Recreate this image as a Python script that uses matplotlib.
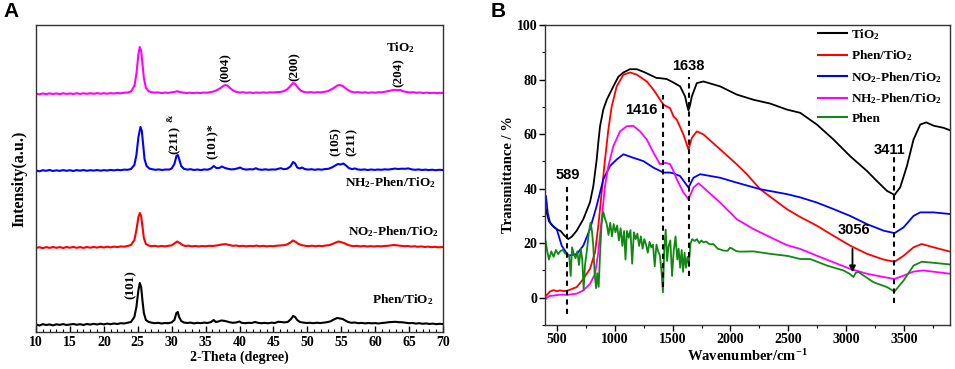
import matplotlib
matplotlib.use("Agg")
import matplotlib.pyplot as plt
import numpy as np

plt.rcParams["font.family"] = ["Liberation Serif", "DejaVu Serif"]
plt.rcParams["font.weight"] = "bold"
plt.rcParams["mathtext.fontset"] = "custom"
plt.rcParams["mathtext.rm"] = "Liberation Serif:bold"
plt.rcParams["mathtext.it"] = "Liberation Serif:bold"
plt.rcParams["mathtext.bf"] = "Liberation Serif:bold"
plt.rcParams["mathtext.default"] = "rm"

# ---------------- Panel A: XRD (2-theta, relative intensity) ----------------
xrd_phen = [
    (10, 0.5), (10.5, -0.5), (11, 0.8), (11.5, 0), (12, 0.6), (12.5, -0.4), (13, 0.7), (13.5, 0.1),
    (14, 0.9), (14.5, 0), (15, 0.5), (15.5, 1), (16, 0.2), (16.5, 0.8), (17, 0), (17.5, 1),
    (18, 0.4), (18.5, 1.2), (19, 0.5), (19.5, 1.3), (20, 0.6), (20.5, 1.4), (21, 0.8), (21.5, 1.5),
    (22, 1), (22.5, 1.8), (23, 1.5), (23.5, 2.2), (24, 3), (24.5, 8), (24.8, 18), (25.1, 35),
    (25.3, 42), (25.5, 38), (25.7, 24), (25.9, 12), (26.2, 5), (26.6, 3), (27, 2.4), (27.5, 1.8),
    (28, 2.2), (28.5, 1.5), (29, 2), (29.5, 1.8), (30, 2.6), (30.4, 5), (30.7, 12), (30.9, 13),
    (31.1, 8), (31.4, 4), (31.8, 2.5), (32.3, 2), (32.8, 2.4), (33.3, 1.6), (33.8, 2.2), (34.3, 1.8),
    (34.8, 2.4), (35.3, 2), (35.8, 3), (36.2, 5), (36.5, 3), (36.9, 3.5), (37.3, 4.5), (37.7, 4.2),
    (38.1, 3.6), (38.5, 2.8), (39, 2.2), (39.5, 2.5), (40, 3.5), (40.3, 2.2), (40.8, 1.8), (41.3, 2.2),
    (41.8, 2), (42.3, 3), (42.7, 2.2), (43.2, 1.8), (43.7, 2.1), (44.2, 1.7), (44.7, 2.3), (45.2, 2),
    (45.7, 3.2), (46.1, 3), (46.6, 2.6), (47.1, 3), (47.6, 6), (47.9, 9), (48.2, 8), (48.5, 5),
    (48.9, 3), (49.4, 2.4), (49.9, 2), (50.4, 2.2), (50.9, 1.8), (51.4, 2.3), (51.9, 1.9), (52.4, 2.4),
    (52.9, 2.8), (53.4, 3.6), (53.9, 5.5), (54.4, 7), (54.8, 6.5), (55.2, 6), (55.6, 4.5), (56, 3),
    (56.5, 2.2), (57, 2.5), (57.5, 1.8), (58, 2.1), (58.5, 1.6), (59, 2), (59.5, 1.7), (60, 1.9),
    (60.5, 1.5), (61, 2), (61.5, 2.3), (62, 2.8), (62.5, 3), (63, 3.2), (63.5, 2.8), (64, 2.7),
    (64.5, 2.2), (65, 1.8), (65.5, 2), (66, 1.4), (66.5, 1.8), (67, 1.2), (67.5, 1.6), (68, 1),
    (68.5, 1.4), (69, 0.8), (69.5, 1.2), (70, 0.9),
]
xrd_no2 = [
    (10, 0), (10.5, 0.8), (11, -0.2), (11.5, 0.9), (12, 0.1), (12.5, 1), (13, 0.2), (13.5, 0.9),
    (14, 0), (14.5, 1), (15, 0.3), (15.5, 1.1), (16, 0.2), (16.5, 0.9), (17, 0.1), (17.5, 1),
    (18, 0.3), (18.5, 1.1), (19, 0.4), (19.5, 1.2), (20, 0.5), (20.5, 1.3), (21, 0.6), (21.5, 1.4),
    (22, 0.9), (22.5, 1.6), (23, 1.3), (23.5, 2), (24, 3), (24.5, 8), (24.8, 18), (25.1, 31),
    (25.3, 35), (25.5, 32), (25.7, 21), (25.9, 10), (26.2, 4), (26.6, 2.5), (27, 1.8), (27.5, 2.2),
    (28, 1.5), (28.5, 2), (29, 1.6), (29.5, 2.2), (30, 2.6), (30.4, 4.5), (30.8, 6.5), (31.2, 5),
    (31.6, 3), (32, 2), (32.5, 2.3), (33, 1.6), (33.5, 2.1), (34, 1.5), (34.5, 2), (35, 1.7),
    (35.5, 2.2), (36, 2), (36.5, 2.4), (37, 3), (37.5, 3.6), (38, 3.8), (38.5, 3), (39, 2.2),
    (39.5, 2.5), (40, 1.8), (40.5, 2.2), (41, 1.6), (41.5, 2.1), (42, 1.8), (42.5, 2.4), (43, 1.7),
    (43.5, 2.2), (44, 1.6), (44.5, 2), (45, 1.8), (45.5, 2.3), (46, 2.5), (46.5, 2.8), (47, 3.5),
    (47.5, 5.5), (47.9, 7.5), (48.3, 6), (48.7, 4), (49.2, 2.8), (49.7, 2.2), (50.2, 1.8), (50.7, 2.3),
    (51.2, 1.7), (51.7, 2.2), (52.2, 1.9), (52.7, 2.5), (53.2, 2.8), (53.7, 4), (54.2, 5.5), (54.6, 6.5),
    (55, 5.8), (55.4, 5), (55.8, 3.6), (56.3, 2.4), (56.8, 1.8), (57.3, 2.2), (57.8, 1.6), (58.3, 2),
    (58.8, 1.5), (59.3, 1.9), (59.8, 1.5), (60.3, 1.9), (60.8, 1.6), (61.3, 2), (61.8, 2.2), (62.3, 2.6),
    (62.8, 3), (63.3, 2.6), (63.8, 2.2), (64.3, 1.8), (64.8, 2), (65.3, 1.4), (65.8, 1.8), (66.3, 1.2),
    (66.8, 1.6), (67.3, 1), (67.8, 1.4), (68.3, 0.8), (68.8, 1.2), (69.3, 0.7), (70, 1),
]
xrd_nh2 = [
    (10, 0.5), (10.5, -0.3), (11, 0.8), (11.5, 0.2), (12, 1), (12.5, 0), (13, 0.7), (13.5, 0.1),
    (14, 0.9), (14.5, 0.2), (15, 0.8), (15.5, 0), (16, 0.9), (16.5, 0.3), (17, 1), (17.5, 0.2),
    (18, 0.8), (18.5, 0.4), (19, 1), (19.5, 0.3), (20, 0.9), (20.5, 0.5), (21, 1.1), (21.5, 0.6),
    (22, 1.2), (22.5, 0.8), (23, 1.4), (23.5, 1.2), (24, 2), (24.5, 6), (24.8, 16), (25.1, 34),
    (25.4, 44), (25.6, 40), (25.8, 26), (26, 12), (26.3, 5), (26.7, 2.5), (27.1, 1.8), (27.6, 1.2),
    (28.1, 1.6), (28.6, 1), (29.1, 1.5), (29.6, 1.4), (30, 2.5), (30.4, 7), (30.7, 15), (30.9, 16),
    (31.1, 12), (31.4, 5), (31.8, 2.2), (32.3, 1.4), (32.8, 1.8), (33.3, 1), (33.8, 1.5), (34.3, 0.9),
    (34.8, 1.6), (35.3, 1.3), (35.8, 2.5), (36.2, 5), (36.6, 3), (37, 3), (37.4, 4.5), (37.8, 3.2),
    (38.3, 2.2), (38.8, 1.6), (39.3, 1.9), (39.7, 2.6), (40.1, 3.5), (40.5, 2), (41, 1.4), (41.5, 1.8),
    (42, 1.6), (42.4, 2.8), (42.8, 1.6), (43.3, 1.2), (43.8, 1.7), (44.3, 1.2), (44.8, 1.6), (45.3, 1.4),
    (45.8, 2.4), (46.1, 2.8), (46.5, 1.8), (47, 2.2), (47.5, 4.5), (47.9, 9), (48.2, 7.5), (48.5, 3.5),
    (48.9, 2.5), (49.2, 3.5), (49.6, 2), (50.1, 1.4), (50.6, 1.8), (51.1, 1.2), (51.6, 1.7), (52.1, 1.3),
    (52.6, 1.9), (53.1, 2.2), (53.6, 3.5), (54.1, 5.5), (54.5, 7), (54.9, 6.5), (55.3, 7.5), (55.7, 5.5),
    (56.1, 3), (56.6, 1.8), (57, 2.6), (57.4, 1.6), (57.9, 1.2), (58.4, 1.6), (58.9, 1), (59.4, 1.5),
    (59.9, 1.1), (60.4, 1.5), (60.9, 1.2), (61.4, 1.7), (61.9, 1.4), (62.4, 1.9), (62.9, 2.4), (63.4, 2),
    (63.9, 2.3), (64.4, 2.2), (64.9, 2.6), (65.4, 1.6), (65.9, 1.2), (66.4, 1.6), (66.9, 1), (67.4, 1.4),
    (67.9, 0.9), (68.4, 1.3), (68.9, 0.8), (69.4, 1.2), (70, 1),
]
xrd_tio2 = [
    (10, 0.3), (10.5, -0.4), (11, 0.6), (11.5, -0.2), (12, 0.7), (12.5, 0), (13, 0.6), (13.5, -0.1),
    (14, 0.7), (14.5, 0.1), (15, 0.6), (15.5, 0), (16, 0.8), (16.5, 0.1), (17, 0.7), (17.5, 0.2),
    (18, 0.8), (18.5, 0.2), (19, 0.9), (19.5, 0.3), (20, 0.8), (20.5, 0.3), (21, 0.9), (21.5, 0.5),
    (22, 1.1), (22.5, 0.7), (23, 1.3), (23.5, 1.5), (24, 2.5), (24.5, 8), (24.8, 20), (25.1, 40),
    (25.3, 47), (25.5, 43), (25.7, 30), (25.9, 16), (26.2, 6), (26.6, 2.8), (27, 1.8), (27.5, 1.4),
    (28, 1.6), (28.5, 1), (29, 1.4), (29.5, 1.1), (30, 1.6), (30.5, 2.2), (30.8, 2.8), (31.2, 2),
    (31.7, 1.4), (32.2, 1), (32.7, 1.3), (33.2, 0.9), (33.7, 1.3), (34.2, 1), (34.7, 1.4), (35.2, 1.3),
    (35.7, 1.8), (36.2, 2.6), (36.7, 4), (37.2, 6), (37.6, 8), (37.9, 9), (38.2, 8.5), (38.6, 6),
    (39, 3.8), (39.5, 2.2), (40, 1.5), (40.5, 1.8), (41, 1.2), (41.5, 1.6), (42, 1.1), (42.5, 1.5),
    (43, 1.2), (43.5, 1.6), (44, 1.3), (44.5, 1.7), (45, 1.5), (45.5, 1.9), (46, 2), (46.5, 2.8),
    (47, 4.5), (47.5, 8), (47.9, 11), (48.2, 10), (48.6, 6.5), (49, 3.5), (49.5, 2), (50, 1.6),
    (50.5, 1.9), (51, 1.4), (51.5, 1.8), (52, 1.6), (52.5, 2.2), (53, 2.8), (53.5, 4.5), (54, 6.5),
    (54.4, 8.5), (54.8, 9), (55.2, 8), (55.6, 6), (56, 3.8), (56.5, 2.2), (57, 1.6), (57.5, 1.9),
    (58, 1.3), (58.5, 1.7), (59, 1.2), (59.5, 1.6), (60, 1.3), (60.5, 1.8), (61, 1.7), (61.5, 2.3),
    (62, 3), (62.5, 3.8), (62.9, 4.2), (63.3, 3.8), (63.7, 4), (64.1, 2.8), (64.6, 2), (65.1, 1.5),
    (65.6, 1.8), (66.1, 1.2), (66.6, 1.6), (67.1, 1), (67.6, 1.4), (68.1, 0.9), (68.6, 1.3), (69.1, 0.8),
    (69.6, 1.2), (70, 1),
]

xrd_series = [
    ("Phen/TiO$_2$", xrd_phen, "black", 7),
    ("NO$_2$-Phen/TiO$_2$", xrd_no2, "#ff0000", 84),
    ("NH$_2$-Phen/TiO$_2$", xrd_nh2, "#0000ff", 161),
    ("TiO$_2$", xrd_tio2, "#ff00ff", 238),
]

# (label, 2-theta, height)
xrd_peak_labels = [
    ("(101)", 23.9, 47),
    ("(211)", 30.5, 192),
    ("(101)*", 36.0, 191),
    ("(105)", 54.1, 190),
    ("(211)", 56.6, 190),
    ("(004)", 38.0, 264),
    ("(200)", 48.2, 265),
    ("(204)", 63.4, 259),
]
amp_mark = ("&", 29.8, 214)
xrd_curve_labels = [
    ("TiO$_2$", 63.8, 284),
    ("NH$_2$-Phen/TiO$_2$", 62.3, 149),
    ("NO$_2$-Phen/TiO$_2$", 62.7, 100),
    ("Phen/TiO$_2$", 64.0, 32),
]

# ---------------- Panel B: FTIR (wavenumber, transmittance %) ----------------
ftir_tio2 = [
    (400, 33), (430, 28), (470, 26), (500, 25), (530, 24.5), (560, 23), (597, 21.5), (630, 22.5),
    (670, 24.6), (727, 28.8), (785, 35), (814, 41), (843, 50.7), (857, 57), (872, 62.9), (900, 69),
    (930, 72.6), (987, 77.5), (1030, 81), (1074, 82.6), (1130, 83.8), (1190, 83.8), (1250, 82.8),
    (1300, 81.8), (1360, 80.6), (1391, 80.5), (1449, 80.2), (1507, 78.9), (1565, 77.5), (1608, 73.8),
    (1625, 70.5), (1637, 68.7), (1650, 70.5), (1666, 73.8), (1709, 78.7), (1766, 79.3), (1911, 77.5),
    (2055, 74.5), (2199, 72.6), (2344, 71.2), (2488, 69), (2604, 67.8), (2748, 63.5), (2892, 58),
    (3036, 51.9), (3181, 46.5), (3267, 42.8), (3354, 39.2), (3420, 37.7), (3469, 40.5), (3527, 48.3),
    (3584, 58), (3642, 63.5), (3694, 64.3), (3757, 63.1), (3844, 62.3), (3900, 61.4),
]
ftir_phen_tio2 = [
    (400, 0.5), (439, 2.3), (470, 2.8), (500, 2.4), (526, 2.7), (560, 2.4), (597, 2.7), (670, 3.9),
    (727, 6.9), (785, 10.6), (829, 16.7), (857, 26.4), (886, 38.6), (915, 50.7), (944, 61.7),
    (973, 70.2), (1016, 77.5), (1074, 81.8), (1132, 82.6), (1190, 81.8), (1276, 79.3), (1334, 76.3),
    (1420, 70.8), (1478, 69.5), (1507, 66.5), (1536, 65.3), (1593, 59.9), (1637, 54.4), (1666, 58.6),
    (1709, 61), (1766, 59.9), (1911, 54.4), (2055, 48.9), (2142, 45.3), (2257, 39.8), (2488, 32.5),
    (2604, 29.6), (2748, 26.4), (2892, 22.7), (3036, 19.1), (3181, 16.1), (3325, 14), (3420, 13.2),
    (3498, 15.4), (3584, 18.5), (3656, 19.7), (3757, 18.5), (3900, 16.9),
]
ftir_no2 = [
    (404, 37.3), (420, 31), (439, 27.6), (460, 26.5), (497, 25.2), (540, 19.1), (597, 15.4),
    (670, 16), (727, 19.1), (785, 25.2), (843, 33.7), (900, 43.4), (958, 48.3), (1016, 50.7),
    (1074, 52.6), (1161, 51.3), (1247, 50.1), (1334, 47.7), (1420, 45.9), (1478, 45.9), (1507, 45.6),
    (1565, 44.6), (1637, 40.4), (1680, 44), (1738, 45.3), (1911, 44), (2055, 42.2), (2257, 39.8),
    (2488, 38), (2604, 36.8), (2748, 34.9), (2892, 32.5), (3036, 30), (3181, 27), (3325, 24.6),
    (3420, 23.7), (3498, 25.8), (3584, 30), (3642, 31.3), (3757, 31.3), (3900, 30.7),
]
ftir_nh2 = [
    (404, -0.4), (430, 0.6), (468, 0.8), (520, 1.1), (597, 1.1), (670, 1.5), (727, 2.7),
    (785, 5.1), (829, 8.8), (857, 16.7), (886, 28.8), (915, 41), (944, 48.3), (987, 55.6),
    (1045, 61), (1103, 62.9), (1161, 63), (1218, 61), (1276, 58), (1334, 53.2), (1391, 48.9),
    (1435, 49.5), (1478, 49), (1507, 46.5), (1536, 43.4), (1593, 38.6), (1637, 36.1), (1680, 40.4),
    (1724, 42), (1911, 34.9), (2055, 28.8), (2199, 25.2), (2344, 22.2), (2488, 19.3), (2604, 17.9),
    (2748, 15.4), (2892, 13), (3036, 10.6), (3181, 8.8), (3325, 7.6), (3420, 6.9), (3498, 8.1),
    (3584, 9.6), (3671, 10), (3900, 8.8),
]
ftir_phen = [
    (400, 21), (415, 17), (430, 14), (450, 17), (470, 15), (490, 17.5), (510, 16), (530, 17.2),
    (550, 17.5), (570, 16.2), (590, 16), (605, 15.5), (618, 8), (630, 18.5), (645, 16), (660, 14.5),
    (675, 17), (690, 12), (705, 18), (718, 14), (730, 3), (742, 12), (760, 18), (775, 24),
    (790, 27.5), (800, 25), (812, 20), (825, 9), (838, 3.5), (848, 9), (860, 4), (872, 16),
    (885, 27), (900, 31.5), (915, 29), (930, 27), (945, 23), (960, 27.5), (975, 22.5), (990, 27),
    (1005, 24), (1020, 26.5), (1035, 21), (1050, 25.5), (1065, 19), (1080, 24.5), (1092, 14),
    (1105, 24.5), (1120, 22), (1135, 24.8), (1150, 12.5), (1165, 24), (1180, 21.5), (1195, 23.5),
    (1210, 19), (1225, 22.5), (1240, 18), (1255, 21.5), (1270, 19.5), (1285, 16.5), (1300, 20.5),
    (1315, 18.5), (1330, 19.5), (1345, 11.5), (1360, 19.5), (1375, 17), (1390, 15.5), (1405, 9),
    (1416, 2), (1428, 18), (1440, 25), (1452, 13.5), (1465, 19), (1480, 21), (1495, 8),
    (1510, 17.5), (1525, 22.5), (1540, 14), (1552, 18), (1565, 11), (1578, 17.5), (1590, 9.5),
    (1603, 16.5), (1615, 11), (1628, 15), (1640, 12.5), (1655, 20), (1670, 21.5), (1690, 20.8),
    (1710, 21.5), (1730, 20), (1750, 21), (1766, 20.3), (1790, 20.6), (1820, 19.6), (1853, 19.7),
    (1890, 18), (1940, 17.3), (1975, 17.2), (1995, 18.3), (2012, 18.1), (2050, 17.1), (2084, 16.9),
    (2200, 17), (2344, 16.1), (2500, 15.3), (2604, 14.2), (2690, 14.2), (2835, 11.8), (2979, 10),
    (3030, 8.8), (3065, 7.6), (3085, 9.2), (3108, 9.4), (3238, 5.7), (3354, 3.9), (3420, 2.3),
    (3498, 6.3), (3584, 11.8), (3656, 13.2), (3760, 12.8), (3900, 12.2),
]

ftir_series = [
    ("TiO$_2$", ftir_tio2, "black"),
    ("Phen/TiO$_2$", ftir_phen_tio2, "#ff0000"),
    ("NO$_2$-Phen/TiO$_2$", ftir_no2, "#0000ff"),
    ("NH$_2$-Phen/TiO$_2$", ftir_nh2, "#ff00ff"),
    ("Phen", ftir_phen, "#118811"),
]

# (wavenumber, line top, line bottom, label x, label y)
ftir_marks = [
    (589, 41, -6, 597, 45),
    (1416, 74.5, 4, 1225, 69),
    (1638, 81, 8, 1634, 85),
    (3411, 52, -2, 3374, 54),
]
arrow_wn, arrow_top, arrow_bottom = 3056, 19, 8.3
arrow_label = ("3056", 3065, 25)

fig = plt.figure(figsize=(9.55, 3.69), dpi=100)

# ---- Panel A
axA = fig.add_axes([0.0377, 0.1003, 0.4262, 0.8319])
for label, pts, color, offset in xrd_series:
    xs = np.array([p[0] for p in pts])
    ys = np.array([p[1] for p in pts]) + offset
    axA.plot(xs, ys, color=color, lw=1.5)

for text, x, y in xrd_peak_labels:
    axA.text(x, y, text, rotation=90, ha="center", va="center", fontsize=9.5, fontweight="bold")
axA.text(amp_mark[1], amp_mark[2], amp_mark[0], rotation=90, ha="center", va="center",
         fontsize=6.5, fontweight="bold")
for text, x, y in xrd_curve_labels:
    axA.text(x, y, text, ha="center", va="center", fontsize=9.5, fontweight="bold")

axA.set_xlim(10, 70)
axA.set_ylim(0, 307)
axA.set_yticks([])
axA.set_xticks(np.arange(10, 71, 5))
axA.set_xticks(np.arange(10, 71, 1), minor=True)
axA.tick_params(axis="x", which="major", direction="in", length=4, width=1, labelsize=10, pad=3)
axA.tick_params(axis="x", which="minor", direction="in", length=2, width=0.8)
for lab in axA.get_xticklabels():
    lab.set_fontweight("bold")
axA.set_xlabel("2-Theta (degree)", fontsize=10, fontweight="bold", labelpad=1)
axA.set_ylabel("Intensity(a.u.)", fontsize=11.5, fontweight="bold", labelpad=6)
for sp in axA.spines.values():
    sp.set_linewidth(1.0)
    sp.set_color("#333333")

# ---- Panel B
axB = fig.add_axes([0.5712, 0.1192, 0.4236, 0.813])
for label, pts, color in ftir_series:
    xs = [p[0] for p in pts]
    ys = [p[1] for p in pts]
    axB.plot(xs, ys, color=color, lw=1.3, label=label)

for wn, top, bot, lx, ly in ftir_marks:
    axB.plot([wn, wn], [bot, top], color="black", lw=1.5, ls=(0, (2.5, 2)))
    axB.text(lx, ly, str(wn), ha="center", va="center", fontsize=10.5,
             fontweight="bold", family=["Liberation Sans", "DejaVu Sans"])
axB.annotate("", xy=(arrow_wn, arrow_bottom), xytext=(arrow_wn, arrow_top),
             arrowprops=dict(arrowstyle="-|>", color="black", lw=1.3, mutation_scale=9))
axB.text(arrow_label[1], arrow_label[2], arrow_label[0], ha="center", va="center",
         fontsize=10.5, fontweight="bold", family=["Liberation Sans", "DejaVu Sans"])

axB.set_xlim(400, 3900)
axB.set_ylim(-10, 100)
axB.set_xticks(np.arange(500, 3501, 500))
axB.set_xticks(np.arange(500, 3900, 250), minor=True)
axB.set_yticks(np.arange(0, 101, 20))
axB.set_yticks(np.arange(-10, 101, 10), minor=True)
axB.tick_params(axis="both", which="major", direction="out", length=4, width=1, labelsize=10, pad=2)
axB.tick_params(axis="both", which="minor", direction="out", length=2.5, width=0.8)
for lab in axB.get_xticklabels() + axB.get_yticklabels():
    lab.set_fontweight("bold")
axB.set_xlabel("Wavenumber/cm$^{-1}$", fontsize=10.5, fontweight="bold", labelpad=1)
axB.set_ylabel("Transmittance / %", fontsize=10.5, fontweight="bold", labelpad=1)
for sp in axB.spines.values():
    sp.set_linewidth(1.0)
    sp.set_color("#333333")

leg = axB.legend(loc="upper right", bbox_to_anchor=(1.0, 1.02), frameon=False,
                 fontsize=9.5, handlelength=2.2, handletextpad=0.3, labelspacing=0.5,
                 borderaxespad=0.2)
for t in leg.get_texts():
    t.set_fontweight("bold")
for line in leg.get_lines():
    line.set_linewidth(1.5)

fig.text(0.004, 0.995, "A", ha="left", va="top", fontsize=15, fontweight="bold",
         family=["Liberation Sans", "DejaVu Sans"])
fig.text(0.514, 0.995, "B", ha="left", va="top", fontsize=15, fontweight="bold",
         family=["Liberation Sans", "DejaVu Sans"])

fig.savefig("out.png", dpi=100)
